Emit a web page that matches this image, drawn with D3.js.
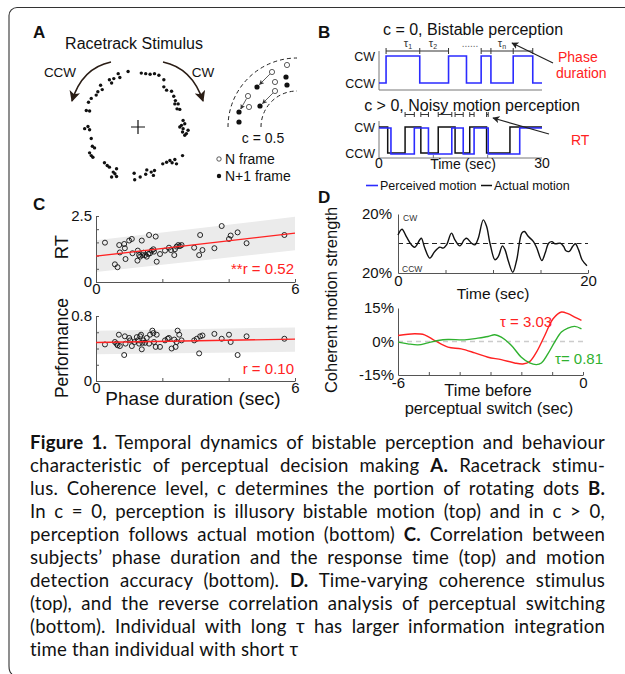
<!DOCTYPE html>
<head>
<meta charset="utf-8">
<title>Figure 1: bistable perception and perceptual decision making</title>
<script src="https://d3js.org/d3.v7.min.js"></script>
<style>
  body { margin: 0; background: #fff; }
  svg text { font-family: "Liberation Sans", Arial, sans-serif; }
</style>
</head>
<body>
<svg width="625" height="674"></svg>
<script>

// ---------------- data ----------------

// A: racetrack dots, in units of the ring radius, relative to the fixation cross
var ringDots = [
  [-0.52,-0.86],[-0.44,-0.88],[-0.48,-0.80],[-0.36,-0.97],[-0.33,-0.90],[-0.18,-1.01],
  [0.06,-0.98],[0.14,-0.97],[0.22,-0.96],[0.30,-0.97],[0.38,-0.94],[0.47,-0.86],
  [0.47,-0.73],[0.52,-0.67],[0.61,-0.65],[0.65,-0.56],[0.68,-0.48],[0.67,-0.42],
  [0.73,-0.42],[0.71,-0.33],[0.76,-0.32],
  [-0.68,-0.76],[-0.65,-0.68],[-0.73,-0.64],[-0.76,-0.58],[-0.85,-0.52],[-0.90,-0.45],
  [-0.94,-0.30],[-0.88,-0.29],
  [-0.97,0.03],[-0.91,-0.01],[-0.88,0.05],[-0.85,0.21],[-0.83,0.35],[-0.79,0.38],
  [-0.88,0.47],[-0.85,0.52],[-0.82,0.55],
  [-0.61,0.65],[-0.56,0.70],[-0.52,0.73],[-0.45,0.82],[-0.39,0.76],[-0.42,0.85],
  [-0.39,0.90],[-0.48,0.91],
  [-0.07,0.84],[-0.06,0.96],[0.04,0.91],[0.14,0.86],[0.16,0.78],[0.24,0.82],
  [0.28,0.88],[0.30,0.79],
  [0.45,0.67],[0.52,0.64],[0.58,0.61],[0.62,0.65],[0.67,0.59],[0.70,0.67],[0.81,0.52],
  [0.79,-0.03],[0.82,0.03],[0.81,0.09],[0.85,0.15],[0.88,0.12],[0.91,0.06],
  [0.85,-0.06],[0.76,0.00],[0.82,-0.12]
];

// A inset: dots in frame N (open) and N+1 (filled), offsets from the arc centre
var insetOpen   = [[-10,-62],[-25,-55],[-22,-45],[-22,-36],[-49,-31],[-48,-20]];
var insetFilled = [[-11,-50],[-10,-42],[-40,-40],[-37,-21],[-58,-15],[-58,-5]];
var insetMoves  = [[1,2],[3,3],[4,4]];      // open index -> filled index
var insetRadii  = [36, 69];

// B: switch times (sec)
var bistableSwitches  = [1.3, 7.5, 12.8, 16.1, 18.8, 20.6, 24.7, 28.3];   // starts CCW
var phaseTicks        = [1.3, 7.5, 12.8, 18.8, 20.6, 24.7, 28.3];
var actualSwitches    = [1.6, 4.8, 7.7, 10.9, 14.0, 16.7, 19.8, 24.1];    // starts CW
var perceivedSwitches = [2.2, 6.5, 9.1, 13.4, 15.5, 17.5, 20.1, 25.9];    // starts CW
var rtPairs = [[4.8,6.5],[7.7,9.1],[10.9,13.4],[14.0,15.5],[16.7,17.5],[19.8,20.1]];

// C: phase duration vs RT
var rtPhase = [0.27,0.57,0.65,0.70,0.72,0.85,0.87,0.89,1.00,1.08,1.10,1.25,1.26,1.30,1.33,
  1.38,1.40,1.43,1.48,1.53,1.58,1.60,1.63,1.68,1.73,1.75,1.80,1.83,1.93,2.08,2.20,2.26,
  2.36,2.38,2.43,2.48,2.53,2.58,2.96,3.11,3.14,3.21,3.57,3.79,4.01,4.06,4.27,4.54,5.68];
var rtValues = [1.49,0.67,0.56,1.40,1.12,1.44,1.28,0.87,1.57,1.63,1.09,0.81,1.19,1.02,0.96,
  1.57,1.02,1.11,1.02,0.96,1.06,1.78,1.09,1.19,1.24,1.15,1.72,0.77,1.06,1.19,1.30,1.21,
  1.02,1.24,1.34,1.40,1.36,1.40,1.30,1.02,1.78,1.21,1.28,2.12,1.63,1.76,1.88,1.47,1.78];
// C: phase duration vs performance
var perfPhase = [0.27,0.57,0.62,0.65,0.69,0.72,0.85,0.87,0.89,1.00,1.03,1.08,1.16,1.23,1.26,
  1.30,1.33,1.36,1.38,1.40,1.43,1.48,1.53,1.60,1.63,1.70,1.73,1.75,1.80,1.83,1.93,2.08,
  2.16,2.20,2.28,2.36,2.40,2.43,2.46,2.51,2.58,2.96,3.04,3.11,3.14,3.21,3.57,3.79,4.01,
  4.06,4.27,4.54,5.68];
var perfValues = [0.45,0.48,0.46,0.44,0.57,0.43,0.32,0.55,0.46,0.53,0.50,0.43,0.48,0.54,0.50,
  0.46,0.55,0.57,0.39,0.47,0.50,0.47,0.53,0.46,0.57,0.62,0.59,0.48,0.42,0.57,0.42,0.50,
  0.52,0.53,0.40,0.51,0.42,0.48,0.62,0.57,0.50,0.50,0.52,0.34,0.55,0.56,0.58,0.52,0.57,
  0.48,0.32,0.55,0.52];
// regression lines and grey bands, at phase duration 0 and 6
var fitX = [0, 6];
var rtFit = [0.98, 1.85], rtBandLow = [0.38, 1.20], rtBandHigh = [1.58, 2.47];
var perfFit = [0.474, 0.515], perfBandLow = [0.33, 0.36], perfBandHigh = [0.62, 0.66];

// D: time-varying coherence stimulus (sec, %)
var stimTime = [0,0.42,0.88,1.41,1.76,2.29,2.46,2.82,3.35,3.87,4.40,4.75,5.11,5.63,5.99,6.51,
  6.97,7.22,7.75,8.10,8.45,8.98,9.33,9.68,10.21,10.56,10.99,11.27,11.62,12.08,12.50,13.03,
  13.31,13.73,14.26,14.61,15.14,15.49,15.85,16.20,16.55,17.08,17.43,17.68,18.03,18.38,
  18.66,19.01,19.37,19.89];
var stimCoh = [5.8,9.7,4.7,-0.9,-2.5,2.5,3.6,-3.1,-9.9,-5.4,-2.5,-3.1,-0.9,7.0,2.5,-1.6,
  2.5,3.6,0.2,-0.9,3.6,16.0,11.5,0.2,-11.0,-8.8,-1.6,-4.3,-12.1,-19.5,-11.0,7.0,8.1,4.7,
  1.3,-3.1,-11.5,-6.5,0.2,1.3,-0.2,0.2,-2.0,-4.9,-5.4,-2.0,-0.2,-4.3,-11.0,-15.1];
// D: reverse correlation before a perceptual switch (sec, %)
var longTauTime = [-6,-5.46,-5.14,-4.81,-4.38,-3.95,-3.51,-3.08,-2.65,-2.22,-1.95,-1.73,
  -1.51,-1.24,-0.97,-0.70,-0.49,-0.27,-0.05];
var longTauCorr = [2.7,3.45,3.0,0.45,-2.55,-3.3,-5.1,-7.05,-8.1,-9.6,-10.05,-9.0,-4.8,2.7,
  10.2,13.2,12.45,10.95,9.45];
var shortTauTime = [-6,-5.68,-5.35,-5.03,-4.70,-4.38,-3.84,-3.41,-3.08,-2.86,-2.65,-2.32,
  -2.00,-1.73,-1.51,-1.35,-1.14,-0.92,-0.70,-0.49,-0.27,-0.05];
var shortTauCorr = [-0.3,-1.05,-1.5,-0.6,0.45,0.9,0.75,1.5,2.25,3.0,1.95,-1.8,-7.05,-9.6,
  -10.35,-9.6,-5.55,-0.3,4.2,6.0,6.75,5.7];

// caption, one array per printed line: [text, bold]
var captionLines = [
  [["Figure 1.", true], [" Temporal dynamics of bistable perception and behaviour", false]],
  [["characteristic of perceptual decision making ", false], ["A.", true], [" Racetrack stimu-", false]],
  [["lus. Coherence level, c determines the portion of rotating dots ", false], ["B.", true]],
  [["In c = 0, perception is illusory bistable motion (top) and in c > 0,", false]],
  [["perception follows actual motion (bottom) ", false], ["C.", true], [" Correlation between", false]],
  [["subjects\u2019 phase duration and the response time (top) and motion", false]],
  [["detection accuracy (bottom). ", false], ["D.", true], [" Time-varying coherence stimulus", false]],
  [["(top), and the reverse correlation analysis of perceptual switching", false]],
  [["(bottom). Individual with long \u03c4 has larger information integration", false]],
  [["time than individual with short \u03c4", false]]
];

// ---------------- drawing ----------------

var svg = d3.select("svg");
var RED = "#f22", BLUE = "#2b2bff", GREEN = "#2fb12f";

var defs = svg.append("defs");
function addHead(id, color, size) {
  defs.append("marker").attr("id", id)
    .attr("viewBox", "0 0 10 10").attr("refX", 9).attr("refY", 5)
    .attr("markerWidth", size).attr("markerHeight", size)
    .attr("markerUnits", "userSpaceOnUse").attr("orient", "auto")
    .append("path").attr("d", "M0,0 L10,5 L0,10 L2.5,5 Z").attr("fill", color);
}
addHead("headBig", "#2a1d15", 11);
addHead("headSmall", "#222", 7);
addHead("headTiny", "#333", 5);

// figure frame (top and left edges only, like the scanned page)
svg.append("path")
  .attr("d", "M625,7.5 H17 A8,8 0 0 0 9,15.5 V666 Q9,672 12,674")
  .attr("fill", "none").attr("stroke", "#333").attr("stroke-width", 1.1);

function label(txt, x, y, size, opts) {
  opts = opts || {};
  return svg.append("text").attr("x", x).attr("y", y).text(txt)
    .attr("font-size", size + "px")
    .attr("text-anchor", opts.anchor || "start")
    .attr("font-weight", opts.bold ? "bold" : null)
    .attr("fill", opts.color || "#111");
}

function vlabel(txt, x, y, size) {
  return svg.append("text").attr("transform", "translate(" + x + "," + y + ") rotate(-90)")
    .attr("text-anchor", "middle").attr("font-size", size + "px").attr("fill", "#111").text(txt);
}

// panel letters
label("A", 33, 38, 17, {bold: true});
label("B", 318, 38, 17, {bold: true});
label("C", 33, 210, 17, {bold: true});
label("D", 318, 203, 17, {bold: true});

// ---------- A: racetrack stimulus ----------
var ringX = d3.scaleLinear().domain([-1, 1]).range([83, 193]);
var ringY = d3.scaleLinear().domain([-1, 1]).range([72, 182]);

label("Racetrack Stimulus", 134, 49, 16, {anchor: "middle"});
label("CCW", 60, 77, 13.5, {anchor: "middle"});
label("CW", 203, 77, 13.5, {anchor: "middle"});

svg.append("path").attr("d", "M111,62 Q82,68 72,101")
  .attr("fill", "none").attr("stroke", "#2a1d15").attr("stroke-width", 1.6).attr("marker-end", "url(#headBig)");
svg.append("path").attr("d", "M163,62 Q192,68 203,101")
  .attr("fill", "none").attr("stroke", "#2a1d15").attr("stroke-width", 1.6).attr("marker-end", "url(#headBig)");

svg.append("g").selectAll("circle").data(ringDots).join("circle")
  .attr("cx", function(d) { return ringX(d[0]); })
  .attr("cy", function(d) { return ringY(d[1]); })
  .attr("r", 1.7).attr("fill", "#111");

// fixation cross
svg.append("path").attr("d", "M" + (ringX(0) - 7) + "," + ringY(0) + "h14 M" + ringX(0) + "," + (ringY(0) - 7) + "v14")
  .attr("stroke", "#111").attr("stroke-width", 1.2);

// inset with two frames
var insetCx = 297, insetCy = 127;
insetRadii.forEach(function(r) {
  var p = d3.path();
  p.arc(insetCx, insetCy, r, Math.PI, 1.5 * Math.PI);
  svg.append("path").attr("d", p.toString()).attr("fill", "none")
    .attr("stroke", "#222").attr("stroke-width", 1).attr("stroke-dasharray", "4,3");
});
insetMoves.forEach(function(m) {
  var a = insetOpen[m[0]], b = insetFilled[m[1]];
  var dx = b[0] - a[0], dy = b[1] - a[1], len = Math.sqrt(dx * dx + dy * dy);
  svg.append("line")
    .attr("x1", insetCx + a[0] + dx / len * 3).attr("y1", insetCy + a[1] + dy / len * 3)
    .attr("x2", insetCx + b[0] - dx / len * 3.5).attr("y2", insetCy + b[1] - dy / len * 3.5)
    .attr("stroke", "#333").attr("stroke-width", 0.8).attr("marker-end", "url(#headTiny)");
});
svg.append("g").selectAll("circle").data(insetOpen).join("circle")
  .attr("cx", function(d) { return insetCx + d[0]; }).attr("cy", function(d) { return insetCy + d[1]; })
  .attr("r", 2.6).attr("fill", "#fff").attr("stroke", "#333").attr("stroke-width", 0.8);
svg.append("g").selectAll("circle").data(insetFilled).join("circle")
  .attr("cx", function(d) { return insetCx + d[0]; }).attr("cy", function(d) { return insetCy + d[1]; })
  .attr("r", 2.6).attr("fill", "#111");

label("c = 0.5", 263, 143, 14, {anchor: "middle"});
svg.append("circle").attr("cx", 219).attr("cy", 159).attr("r", 2.2).attr("fill", "#fff").attr("stroke", "#333").attr("stroke-width", 0.8);
label("N frame", 225, 164, 14);
svg.append("circle").attr("cx", 219).attr("cy", 176).attr("r", 2.2).attr("fill", "#111");
label("N+1 frame", 225, 181, 14);

// ---------- B: bistable vs noisy motion perception ----------
var bx = d3.scaleLinear().domain([0, 30]).range([379, 542]);
var byTop = d3.scaleLinear().domain([0, 1]).range([83, 56]);
var byBotActual = d3.scaleLinear().domain([0, 1]).range([153, 127]);
var byBotPerc = d3.scaleLinear().domain([0, 1]).range([154, 128]);

function stepPoints(startLevel, switches) {
  var pts = [[0, startLevel]], level = startLevel;
  switches.forEach(function(t) { level = 1 - level; pts.push([t, level]); });
  pts.push([30, level]);
  return pts;
}
function stepLine(yScale) {
  return d3.line().curve(d3.curveStepAfter)
    .x(function(d) { return bx(d[0]); }).y(function(d) { return yScale(d[1]); });
}

label("c = 0, Bistable perception", 473, 35, 16, {anchor: "middle"});
label("c > 0, Noisy motion perception", 472, 111, 16, {anchor: "middle"});

// axes frames
[[51, 90], [121, 158]].forEach(function(r) {
  svg.append("path").attr("d", "M" + bx(0) + "," + r[0] + "V" + r[1] + "H" + bx(30))
    .attr("fill", "none").attr("stroke", "#777").attr("stroke-width", 1);
});
svg.append("g").selectAll("line").data([10, 20]).join("line")
  .attr("x1", function(d) { return bx(d); }).attr("x2", function(d) { return bx(d); })
  .attr("y1", 158).attr("y2", 155).attr("stroke", "#777");

[["CW", byTop(1)], ["CCW", byTop(0)], ["CW", byBotActual(1)], ["CCW", byBotActual(0)]].forEach(function(l) {
  label(l[0], 375, l[1] + 4.5, 12.5, {anchor: "end"});
});

svg.append("path").datum(stepPoints(0, bistableSwitches)).attr("d", stepLine(byTop))
  .attr("fill", "none").attr("stroke", BLUE).attr("stroke-width", 1.6);
svg.append("path").datum(stepPoints(1, actualSwitches)).attr("d", stepLine(byBotActual))
  .attr("fill", "none").attr("stroke", "#111").attr("stroke-width", 1.5);
svg.append("path").datum(stepPoints(1, perceivedSwitches)).attr("d", stepLine(byBotPerc))
  .attr("fill", "none").attr("stroke", BLUE).attr("stroke-width", 1.6);

// phase-duration brackets
var brY = 51;
svg.append("g").selectAll("line").data(d3.pairs(phaseTicks).filter(function(p) { return p[0] !== 12.8; }))
  .join("line")
  .attr("x1", function(d) { return bx(d[0]); }).attr("x2", function(d) { return bx(d[1]); })
  .attr("y1", brY).attr("y2", brY).attr("stroke", "#333").attr("stroke-width", 1);
svg.append("g").selectAll("line").data(phaseTicks).join("line")
  .attr("x1", function(d) { return bx(d); }).attr("x2", function(d) { return bx(d); })
  .attr("y1", brY - 3).attr("y2", brY + 3).attr("stroke", "#333").attr("stroke-width", 1);
[["1", 408], ["2", 433], ["n", 502]].forEach(function(t) {
  var tx = svg.append("text").attr("x", t[1]).attr("y", 47).attr("font-size", "11px")
    .attr("text-anchor", "middle").attr("fill", "#333");
  tx.append("tspan").text("\u03c4");
  tx.append("tspan").text(t[0]).attr("font-size", "7px").attr("dy", 2);
});
label("......", 470, 47, 10, {anchor: "middle", color: "#666"});

svg.append("line").attr("x1", 553).attr("y1", 63).attr("x2", 512).attr("y2", 43)
  .attr("stroke", "#222").attr("stroke-width", 1.2).attr("marker-end", "url(#headSmall)");
label("Phase", 558, 62, 14, {color: RED});
label("duration", 556, 78, 14, {color: RED});

// reaction-time brackets
var rtY = 114.5;
svg.append("g").selectAll("path").data(rtPairs).join("path")
  .attr("d", function(d) {
    return "M" + bx(d[0]) + "," + (rtY - 2.5) + "v5 M" + bx(d[0]) + "," + rtY + "H" + bx(d[1]) +
      " M" + bx(d[1]) + "," + (rtY - 2.5) + "v5";
  })
  .attr("fill", "none").attr("stroke", "#333").attr("stroke-width", 1);
svg.append("line").attr("x1", 549).attr("y1", 134).attr("x2", 493).attr("y2", 118)
  .attr("stroke", "#222").attr("stroke-width", 1.2).attr("marker-end", "url(#headSmall)");
label("RT", 571, 145, 14, {color: RED});

label("0", bx(0), 168, 14, {anchor: "middle"});
label("30", bx(30), 168, 14, {anchor: "middle"});
label("Time (sec)", 463, 169, 14, {anchor: "middle"});

// legend
svg.append("line").attr("x1", 366).attr("x2", 378).attr("y1", 185.5).attr("y2", 185.5).attr("stroke", BLUE).attr("stroke-width", 1.6);
label("Perceived motion", 380, 190, 12.5);
svg.append("line").attr("x1", 481).attr("x2", 492).attr("y1", 185.5).attr("y2", 185.5).attr("stroke", "#111").attr("stroke-width", 1.5);
label("Actual motion", 494, 190, 12.5);

// ---------- C: phase duration correlations ----------
var cx = d3.scaleLinear().domain([0, 6]).range([96, 295]);

function styleAxis(g, size) {
  g.attr("font-family", null).attr("font-size", size + "px");
  g.select(".domain").attr("stroke", "#555");
  g.selectAll(".tick line").attr("stroke", "#555");
  g.selectAll(".tick text").attr("fill", "#111");
}

function scatterPanel(o) {
  var y = d3.scaleLinear().domain(o.domain).range(o.range);
  var g = svg.append("g");
  var band = fitX.map(function(v, i) { return {x: v, lo: o.lo[i], hi: o.hi[i]}; });
  g.append("path").datum(band)
    .attr("d", d3.area().x(function(d) { return cx(d.x); })
      .y0(function(d) { return y(d.lo); }).y1(function(d) { return y(d.hi); }))
    .attr("fill", "#ebebeb");

  g.append("g").attr("transform", "translate(0," + o.range[0] + ")")
    .call(d3.axisBottom(cx).tickValues([0, 2, 4, 6]).tickSize(-3).tickSizeOuter(0).tickPadding(1)
      .tickFormat(function(d) { return d === 0 || d === 6 ? d : ""; }))
    .call(styleAxis, 15);
  g.append("g").attr("transform", "translate(" + cx(0) + ",0)")
    .call(d3.axisLeft(y).tickValues(o.ticks).tickSize(-3).tickSizeOuter(0).tickPadding(4)
      .tickFormat(function(d) { return d === o.domain[0] || d === o.domain[1] ? d : ""; }))
    .call(styleAxis, 15);

  g.append("g").selectAll("circle").data(o.xs).join("circle")
    .attr("cx", function(d) { return cx(d); })
    .attr("cy", function(d, i) { return y(o.ys[i]); })
    .attr("r", 2.5).attr("fill", "none").attr("stroke", "#111").attr("stroke-width", 0.9);

  g.append("path").datum(fitX.map(function(v, i) { return [v, o.fit[i]]; }))
    .attr("d", d3.line().x(function(d) { return cx(d[0]); }).y(function(d) { return y(d[1]); }))
    .attr("fill", "none").attr("stroke", RED).attr("stroke-width", 1.4);

  label(o.rText, 294, o.rY, 15, {anchor: "end", color: RED});
}

scatterPanel({domain: [0, 2.5], range: [282, 216], ticks: [0, 0.5, 1, 1.5, 2, 2.5],
  xs: rtPhase, ys: rtValues, fit: rtFit, lo: rtBandLow, hi: rtBandHigh,
  rText: "**r = 0.52", rY: 274});
scatterPanel({domain: [0, 0.8], range: [381, 316], ticks: [0, 0.2, 0.4, 0.6, 0.8],
  xs: perfPhase, ys: perfValues, fit: perfFit, lo: perfBandLow, hi: perfBandHigh,
  rText: "r = 0.10", rY: 374});

vlabel("RT", 68, 247, 18.5);
vlabel("Performance", 68, 348, 17.5);
label("Phase duration (sec)", 193, 405, 19, {anchor: "middle"});

// ---------- D: coherence stimulus and reverse correlation ----------
var dxTop = d3.scaleLinear().domain([0, 20]).range([398, 588]);
var dyTop = d3.scaleLinear().domain([-20, 20]).range([273, 214]);
var dxBot = d3.scaleLinear().domain([-6, 0]).range([398, 583]);
var dyBot = d3.scaleLinear().domain([-15, 15]).range([375, 308]);

svg.append("line").attr("x1", dxTop(0)).attr("x2", dxTop(20)).attr("y1", dyTop(0)).attr("y2", dyTop(0))
  .attr("stroke", "#222").attr("stroke-width", 1).attr("stroke-dasharray", "5,3.5");

svg.append("g").attr("transform", "translate(0," + dyTop.range()[0] + ")")
  .call(d3.axisBottom(dxTop).tickValues([0, 5, 10, 15, 20]).tickSize(-3).tickSizeOuter(0).tickPadding(2)
    .tickFormat(function(d) { return d === 0 || d === 20 ? d : ""; }))
  .call(styleAxis, 15);
svg.append("g").attr("transform", "translate(" + dxTop(0) + ",0)")
  .call(d3.axisLeft(dyTop).tickValues([-20, 20]).tickSize(0).tickPadding(6)
    .tickFormat(function() { return "20%"; }))
  .call(styleAxis, 15);

svg.append("path").datum(stimTime)
  .attr("d", d3.line().curve(d3.curveCatmullRom.alpha(0.5))
    .x(function(d) { return dxTop(d); }).y(function(d, i) { return dyTop(stimCoh[i]); }))
  .attr("fill", "none").attr("stroke", "#111").attr("stroke-width", 1.4);

label("CW", 403, 221, 8.5, {color: "#333"});
label("CCW", 402, 272, 8.5, {color: "#333"});
label("Time (sec)", 493, 299, 15.5, {anchor: "middle"});

svg.append("line").attr("x1", dxBot(-6)).attr("x2", dxBot(0)).attr("y1", dyBot(0)).attr("y2", dyBot(0))
  .attr("stroke", "#ccc").attr("stroke-width", 1.4).attr("stroke-dasharray", "5,4");

svg.append("g").attr("transform", "translate(0," + dyBot.range()[0] + ")")
  .call(d3.axisBottom(dxBot).tickValues(d3.range(-6, 1)).tickSize(-3).tickSizeOuter(0).tickPadding(2)
    .tickFormat(function(d) { return d === -6 || d === 0 ? d : ""; }))
  .call(styleAxis, 15);
svg.append("g").attr("transform", "translate(" + dxBot(-6) + ",0)")
  .call(d3.axisLeft(dyBot).tickValues([-15, 0, 15]).tickSize(0).tickPadding(4)
    .tickFormat(function(d) { return d + "%"; }))
  .call(styleAxis, 15);

[[longTauTime, longTauCorr, RED], [shortTauTime, shortTauCorr, GREEN]].forEach(function(s) {
  svg.append("path").datum(s[0])
    .attr("d", d3.line().curve(d3.curveCatmullRom.alpha(0.5))
      .x(function(d) { return dxBot(d); }).y(function(d, i) { return dyBot(s[1][i]); }))
    .attr("fill", "none").attr("stroke", s[2]).attr("stroke-width", 1.4);
});

label("\u03c4 = 3.03", 500, 327, 15, {color: RED});
label("\u03c4= 0.81", 555, 364, 15, {color: GREEN});

vlabel("Coherent motion strength", 337, 300, 16.5);
label("Time before", 488, 396, 16.5, {anchor: "middle"});
label("perceptual switch (sec)", 489, 414, 16.5, {anchor: "middle"});

// ---------- caption, justified ----------
var capLeft = 30, capRight = 605;
captionLines.forEach(function(line, i) {
  var t = svg.append("text").attr("x", capLeft).attr("y", 449 + i * 23)
    .style("font-family", "Lato, 'Open Sans', sans-serif").style("font-size", "18.6px")
    .style("letter-spacing", "0.2px")
    .style("white-space", "pre").attr("fill", "#111");
  line.forEach(function(seg) {
    t.append("tspan").text(seg[0]).attr("font-weight", seg[1] ? "bold" : null);
  });
  if (i < captionLines.length - 1) {
    var spaces = t.text().split(" ").length - 1;
    var extra = (capRight - capLeft - t.node().getComputedTextLength()) / spaces;
    t.style("word-spacing", extra + "px");
  }
});

</script>
</body>
</html>
